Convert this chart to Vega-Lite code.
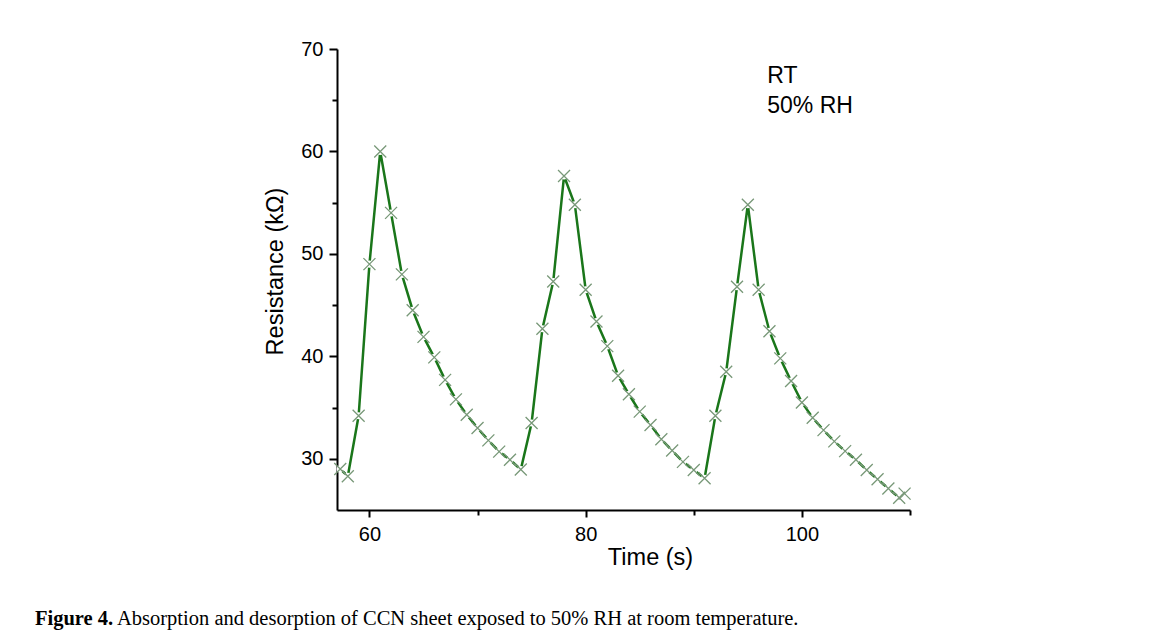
{
  "$schema": "https://vega.github.io/schema/vega-lite/v6.json",
  "width": 573,
  "height": 461,
  "autosize": {"type": "none"},
  "padding": {"left": 337, "top": 49, "right": 242, "bottom": 129},
  "background": "white",
  "datasets": {
    "series": [
      {"t": 57.3, "R": 29.0}, {"t": 58, "R": 28.3}, {"t": 59, "R": 34.2}, {"t": 60, "R": 49.0},
      {"t": 61, "R": 60.0}, {"t": 62, "R": 54.0}, {"t": 63, "R": 48.0}, {"t": 64, "R": 44.5},
      {"t": 65, "R": 41.9}, {"t": 66, "R": 39.9}, {"t": 67, "R": 37.7}, {"t": 68, "R": 35.8},
      {"t": 69, "R": 34.3}, {"t": 70, "R": 33.0}, {"t": 71, "R": 31.8}, {"t": 72, "R": 30.7},
      {"t": 73, "R": 29.9}, {"t": 74, "R": 28.95}, {"t": 75, "R": 33.5}, {"t": 76, "R": 42.7},
      {"t": 77, "R": 47.3}, {"t": 78, "R": 57.6}, {"t": 79, "R": 54.8}, {"t": 80, "R": 46.5},
      {"t": 81, "R": 43.4}, {"t": 82, "R": 41.0}, {"t": 83, "R": 38.1}, {"t": 84, "R": 36.3},
      {"t": 85, "R": 34.6}, {"t": 86, "R": 33.3}, {"t": 87, "R": 31.9}, {"t": 88, "R": 30.8},
      {"t": 89, "R": 29.7}, {"t": 90, "R": 28.9}, {"t": 91, "R": 28.1}, {"t": 92, "R": 34.2},
      {"t": 93, "R": 38.5}, {"t": 94, "R": 46.8}, {"t": 95, "R": 54.8}, {"t": 96, "R": 46.5},
      {"t": 97, "R": 42.45}, {"t": 98, "R": 39.8}, {"t": 99, "R": 37.6}, {"t": 100, "R": 35.5},
      {"t": 101, "R": 34.0}, {"t": 102, "R": 32.8}, {"t": 103, "R": 31.7}, {"t": 104, "R": 30.75},
      {"t": 105, "R": 29.9}, {"t": 106, "R": 28.9}, {"t": 107, "R": 28.0}, {"t": 108, "R": 27.1},
      {"t": 109, "R": 26.2}, {"t": 109.5, "R": 26.6}
    ],
    "notes": [
      {"t": 96.8, "R": 66.7, "label": "RT"},
      {"t": 96.8, "R": 63.8, "label": "50% RH"}
    ]
  },
  "title": {
    "text": "Figure 4.",
    "subtitle": "\u200b\u00a0\u00a0\u00a0\u00a0\u00a0\u00a0\u00a0\u00a0\u00a0\u00a0\u00a0\u00a0\u00a0\u00a0\u00a0\u00a0Absorption and desorption of CCN sheet exposed to 50% RH at room temperature.",
    "orient": "bottom",
    "anchor": "start",
    "frame": "group",
    "dx": -302,
    "offset": 40,
    "font": "Liberation Serif",
    "fontSize": 20.5,
    "fontWeight": "bold",
    "color": "black",
    "subtitleFont": "Liberation Serif",
    "subtitleFontSize": 20.5,
    "subtitleFontWeight": "normal",
    "subtitleColor": "black",
    "subtitlePadding": -20.5
  },
  "config": {
    "view": {"stroke": null},
    "axis": {
      "domainColor": "black",
      "domainWidth": 2,
      "tickColor": "black",
      "tickWidth": 2,
      "labelFont": "Liberation Sans",
      "labelFontSize": 20,
      "labelColor": "black",
      "titleFont": "Liberation Sans",
      "titleFontSize": 23.5,
      "titleFontWeight": "normal",
      "titleColor": "black",
      "grid": false,
      "labelOverlap": false,
      "labelFlush": false
    }
  },
  "layer": [
    {
      "data": {"name": "series"},
      "mark": {"type": "line", "color": "#1a761a", "strokeWidth": 2.5, "clip": true},
      "encoding": {
        "x": {
          "field": "t", "type": "quantitative",
          "scale": {"domain": [57, 110], "nice": false, "zero": false},
          "axis": {
            "title": "Time (s)",
            "values": [60, 70, 80, 90, 100, 110],
            "labelExpr": "datum.value % 20 === 0 ? datum.label : ''",
            "tickSize": {"condition": {"test": "datum.value % 20 !== 0", "value": 5}, "value": 7},
            "labelPadding": 7,
            "titleX": 313,
            "titleY": 54,
            "titleAlign": "center",
            "titleBaseline": "alphabetic"
          }
        },
        "y": {
          "field": "R", "type": "quantitative",
          "scale": {"domain": [25, 70], "nice": false, "zero": false},
          "axis": {
            "title": "Resistance (kΩ)",
            "values": [30, 35, 40, 45, 50, 55, 60, 65, 70],
            "labelExpr": "datum.value % 10 === 0 ? datum.label : ''",
            "tickSize": {"condition": {"test": "datum.value % 10 !== 0", "value": 5}, "value": 8},
            "labelPadding": 6,
            "titleAngle": 270,
            "titleX": -55,
            "titleY": 222,
            "titleAlign": "center",
            "titleBaseline": "alphabetic"
          }
        }
      }
    },
    {
      "data": {"name": "series"},
      "mark": {"type": "point", "shape": "circle", "filled": true, "color": "white", "size": 50, "opacity": 1},
      "encoding": {
        "x": {"field": "t", "type": "quantitative"},
        "y": {"field": "R", "type": "quantitative"}
      }
    },
    {
      "data": {"name": "series"},
      "mark": {"type": "point", "shape": "M-1,-1L1,1M-1,1L1,-1", "filled": false, "stroke": "#789878", "strokeWidth": 1.3, "size": 144, "opacity": 1},
      "encoding": {
        "x": {"field": "t", "type": "quantitative"},
        "y": {"field": "R", "type": "quantitative"}
      }
    },
    {
      "data": {"name": "notes"},
      "mark": {"type": "text", "align": "left", "baseline": "alphabetic", "font": "Liberation Sans", "fontSize": 23, "color": "black"},
      "encoding": {
        "x": {"field": "t", "type": "quantitative"},
        "y": {"field": "R", "type": "quantitative"},
        "text": {"field": "label"}
      }
    }
  ]
}
